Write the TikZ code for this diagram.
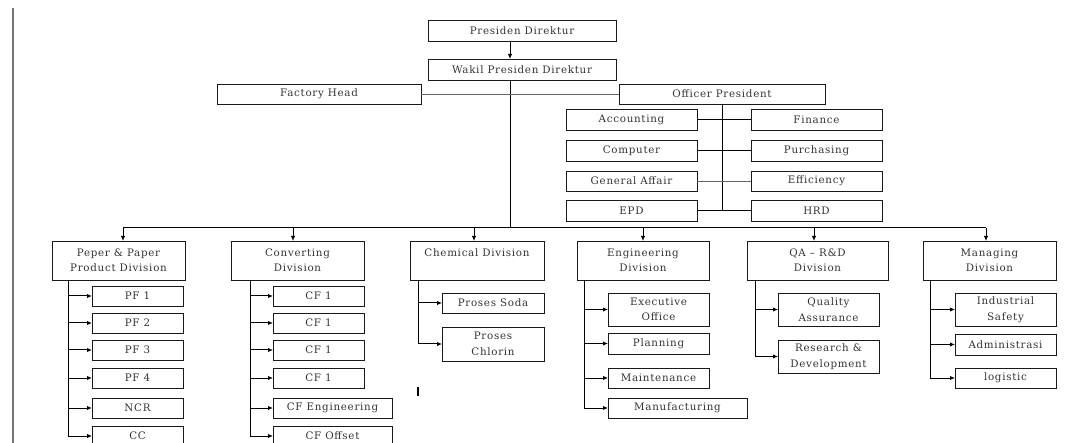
\documentclass[tikz,border=0pt]{standalone}
\usepackage{fontspec}
\setmainfont{DejaVu Serif}[LetterSpace=7]
\usetikzlibrary{arrows.meta}

% box with its top-left corner at (#3,#4), width #5, height #6
\newcommand\orgbox[7][]{%
  \node[box,minimum width=#5pt,minimum height=#6pt,#1] (#2) at (#3,#4) {#7};}

\begin{document}
\begin{tikzpicture}[x=1pt,y=-1pt,
  box/.style={draw=black!90,line width=0.9pt,inner sep=0pt,outer sep=0pt,
    anchor=north west,align=center,text=black!80,
    font=\fontsize{10.3}{15.5}\selectfont},
  link/.style={draw=black,line width=1pt},
  thinlink/.style={draw=black!60,line width=0.8pt},
  arr/.style={link,-{Latex[length=5pt,width=4.5pt]}},
]
\useasboundingbox (0,0) rectangle (1065,443);

% page margin rule
\coordinate (mtop) at (13,8);
\coordinate (mbot) at (13,443);
\draw[black!55,line width=1.2pt] (mtop) -- (mbot);

% top management
\orgbox{pd}{428}{20}{188}{21}{Presiden Direktur}
\orgbox{wpd}{428}{59}{188}{21}{Wakil Presiden Direktur}
\orgbox{fh}{217}{84}{204}{20}{Factory Head}
\orgbox{op}{619}{84}{206}{20}{Officer President}

% staff under the officer president
\orgbox{acc}{566}{109}{131}{21}{Accounting}
\orgbox{comp}{566}{140}{131}{21}{Computer}
\orgbox{ga}{566}{171}{131}{20}{General Affair}
\orgbox{epd}{566}{200}{131}{21}{EPD}
\orgbox{fin}{751}{109}{131}{21}{Finance}
\orgbox{pur}{751}{140}{131}{21}{Purchasing}
\orgbox{eff}{751}{171}{131}{20}{Efficiency}
\orgbox{hrd}{751}{200}{131}{21}{HRD}

% divisions
\orgbox{pp}{52}{241}{133}{39}{Peper \& Paper\\Product Division}
\orgbox{cv}{231}{241}{133}{39}{Converting\\Division}
\orgbox{ch}{410}{241}{134}{39}{Chemical Division\\\mbox{}}
\orgbox{en}{577}{241}{132}{39}{Engineering\\Division}
\orgbox{qa}{747}{241}{141}{39}{QA -- R\&D\\Division}
\orgbox{mg}{923}{241}{133}{39}{Managing\\Division}

% paper units
\orgbox{pf1}{92}{286}{91}{20}{PF 1}
\orgbox{pf2}{92}{313}{91}{20}{PF 2}
\orgbox{pf3}{92}{340}{91}{20}{PF 3}
\orgbox{pf4}{92}{368}{91}{20}{PF 4}
\orgbox{ncr}{92}{398}{91}{20}{NCR}
\orgbox{cc}{92}{426}{91}{20}{CC}

% converting units
\orgbox{cf1}{273}{286}{91}{20}{CF 1}
\orgbox{cf2}{273}{313}{91}{20}{CF 1}
\orgbox{cf3}{273}{340}{91}{20}{CF 1}
\orgbox{cf4}{273}{368}{91}{20}{CF 1}
\orgbox{cfe}{273}{398}{119}{20}{CF Engineering}
\orgbox{cfo}{273}{426}{119}{20}{CF Offset}

% chemical units
\orgbox{soda}{442}{293}{102}{20}{Proses Soda}
\orgbox{chl}{442}{327}{102}{34}{Proses\\Chlorin}

% engineering units
\orgbox{exo}{608}{293}{101}{33}{Executive\\Office}
\orgbox{pla}{608}{333}{101}{21}{Planning}
\orgbox{mai}{608}{368}{101}{20}{Maintenance}
\orgbox{man}{608}{398}{139}{20}{Manufacturing}

% QA units
\orgbox{qas}{778}{293}{101}{33}{Quality\\Assurance}
\orgbox{rnd}{778}{340}{101}{33}{Research \&\\Development}

% managing units
\orgbox{ins}{955}{293}{101}{33}{Industrial\\Safety}
\orgbox{adm}{955}{334}{101}{21}{Administrasi}
\orgbox{log}{955}{368}{101}{20}{logistic}

% trunk and bus
\coordinate (trunk) at (510,228);
\draw[arr] (pd.south -| trunk) -- (wpd.north -| trunk);
\draw[link] (wpd.south -| trunk) -- (trunk);
\draw[thinlink] (fh.east) -- (op.west);

\coordinate (d1) at (123,228);
\coordinate (d2) at (293,228);
\coordinate (d3) at (474,228);
\coordinate (d4) at (643,228);
\coordinate (d5) at (814,228);
\coordinate (d6) at (986,228);
\draw[link] (d1) -- (d6);
\foreach \d/\n in {d1/pp,d2/cv,d3/ch,d4/en,d5/qa,d6/mg}
  \draw[arr] (\d) -- (\d |- \n.north);

% officer president staff lines
\draw[link] (op.south) -- (op.south |- epd.east);
\draw[link] (acc.east) -- (fin.west);
\draw[link] (comp.east) -- (pur.west);
\draw[thinlink] (ga.east) -- (eff.west);
\draw[link] (epd.east) -- (hrd.west);

% division branches
\coordinate (vpp) at (68,0);
\coordinate (vcv) at (250,0);
\coordinate (vch) at (418,0);
\coordinate (ven) at (584,0);
\coordinate (vqa) at (755,0);
\coordinate (vmg) at (930,0);

\draw[link] (pp.south -| vpp) -- (cc.west -| vpp);
\foreach \c in {pf1,pf2,pf3,pf4,ncr,cc}
  \draw[arr] (\c.west -| vpp) -- (\c.west);

\draw[link] (cv.south -| vcv) -- (cfo.west -| vcv);
\foreach \c in {cf1,cf2,cf3,cf4,cfe,cfo}
  \draw[arr] (\c.west -| vcv) -- (\c.west);

\draw[link] (ch.south -| vch) -- (chl.west -| vch);
\foreach \c in {soda,chl}
  \draw[arr] (\c.west -| vch) -- (\c.west);

\draw[link] (en.south -| ven) -- (man.west -| ven);
\foreach \c in {exo,pla,mai,man}
  \draw[arr] (\c.west -| ven) -- (\c.west);

\draw[link] (qa.south -| vqa) -- (rnd.west -| vqa);
\foreach \c in {qas,rnd}
  \draw[arr] (\c.west -| vqa) -- (\c.west);

\draw[link] (mg.south -| vmg) -- (log.west -| vmg);
\foreach \c in {ins,adm,log}
  \draw[arr] (\c.west -| vmg) -- (\c.west);

% stray text cursor mark
\coordinate (cura) at (418,387);
\coordinate (curb) at (418,396);
\draw[black,line width=2.5pt] (cura) -- (curb);
\end{tikzpicture}
\end{document}
